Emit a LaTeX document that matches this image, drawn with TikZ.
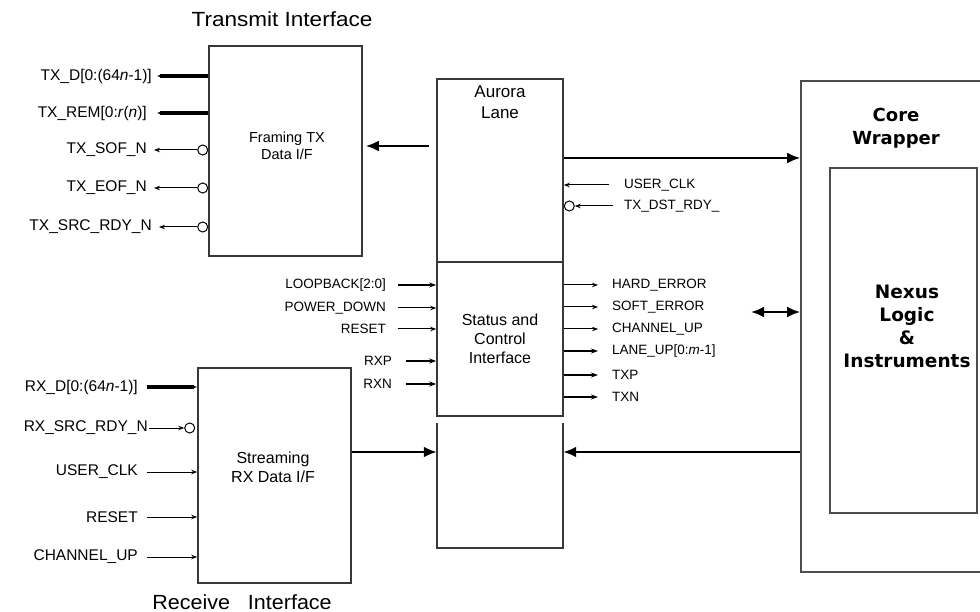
\documentclass[tikz,border=0pt]{standalone}
\usepackage{fontspec}
\setmainfont{Liberation Sans}
\newfontfamily\wrapfont{DejaVu Sans}
\usetikzlibrary{arrows.meta, positioning, calc}
\definecolor{boxgray}{rgb}{0.22,0.22,0.22}

\begin{document}
\begin{tikzpicture}[x=1pt, y=-1pt,
    blk/.style={draw=boxgray, line width=1.6pt, inner sep=0pt, align=center},
    pinlbl/.style={font=\fontsize{15.5}{17}\selectfont, inner sep=0pt},
    statlbl/.style={font=\fontsize{13.5}{15}\selectfont, inner sep=0pt},
    boxtxt/.style={inner sep=0pt, align=center},
    sig/.style={line width=1pt, -{Stealth[length=6pt, width=4.5pt]}},
    sigb/.style={line width=1.6pt, -{Stealth[length=7pt, width=5pt]}},
    bus/.style={line width=3.6pt, -{Stealth[length=5pt, width=3pt]}},
    main/.style={line width=2.4pt, -{Latex[length=13pt, width=11pt]}},
    bubble/.style={circle, draw, line width=1pt, minimum size=10pt, inner sep=0pt}]
    \useasboundingbox (0,0) rectangle (980,612);

    % Transmit interface
    \node[font=\fontsize{20.5}{22}\selectfont, xscale=1.1] (txtitle) at (282,19) {Transmit Interface};
    \node[blk, minimum width=153pt, minimum height=210pt] (frame) at (285.5,151) {};
    \node[boxtxt, font=\fontsize{14.5}{17}\selectfont] (frametxt) at (287,146) {Framing TX\\Data I/F};

    \node[pinlbl, anchor=east] (txd) at (152,76) {TX\_D[0:(64\textit{n}-1)]};
    \node[pinlbl, anchor=east] (txrem) at (147,113) {TX\_REM[0:\textit{r}(\textit{n})]};
    \node[pinlbl, anchor=east] (txsof) at (147,150) {TX\_SOF\_N};
    \node[pinlbl, anchor=east] (txeof) at (147,188) {TX\_EOF\_N};
    \node[pinlbl, anchor=east] (txsrc) at (152,227) {TX\_SRC\_RDY\_N};
    \draw[bus] (frame.west |- txd) -- ([xshift=5pt]txd.east);
    \draw[bus] (frame.west |- txrem) -- ([xshift=10pt]txrem.east);
    \foreach \p in {txsof, txeof, txsrc} {
        \node[bubble, anchor=east] (b\p) at (frame.west |- \p) {};
        \draw[sig] (b\p) -- ([xshift=7pt]\p.east);
    }

    % Aurora lane
    \node[blk, minimum width=126pt, minimum height=183pt] (aurora) at (500,170.5) {};
    \node[boxtxt, font=\fontsize{17}{21}\selectfont, below=7pt of aurora.north] (auroratxt) {Aurora\\Lane};
    \node[statlbl, anchor=west] (uclk) at (624,185) {USER\_CLK};
    \node[statlbl, anchor=west] (dstrdy) at (624,206) {TX\_DST\_RDY\_};
    \draw[sig] ([xshift=-15pt]uclk.west) -- (aurora.east |- uclk);
    \node[bubble, anchor=west] (bdst) at (aurora.east |- dstrdy) {};
    \draw[sig] ([xshift=-11pt]dstrdy.west) -- (bdst);

    % Status and control
    \node[blk, minimum width=126pt, minimum height=154pt, font=\fontsize{16}{19}\selectfont] (status) at (500,339) {Status and\\Control\\Interface};
    \node[statlbl, anchor=east] (loop) at (386,285) {LOOPBACK[2:0]};
    \node[statlbl, anchor=east] (pdown) at (386,308) {POWER\_DOWN};
    \node[statlbl, anchor=east] (rst) at (386,329) {RESET};
    \node[statlbl, anchor=east] (rxp) at (392,361) {RXP};
    \node[statlbl, anchor=east] (rxn) at (392,384) {RXN};
    \draw[sigb] ([xshift=12pt]loop.east) -- (status.west |- loop);
    \draw[sig] ([xshift=12pt]pdown.east) -- (status.west |- pdown);
    \draw[sig] ([xshift=12pt]rst.east) -- (status.west |- rst);
    \draw[sigb] ([xshift=14pt]rxp.east) -- (status.west |- rxp);
    \draw[sigb] ([xshift=14pt]rxn.east) -- (status.west |- rxn);

    \node[statlbl, anchor=west] (hard) at (612,285) {HARD\_ERROR};
    \node[statlbl, anchor=west] (soft) at (612,307) {SOFT\_ERROR};
    \node[statlbl, anchor=west] (chup) at (612,329) {CHANNEL\_UP};
    \node[statlbl, anchor=west] (lane) at (612,351) {LANE\_UP[0:\textit{m}-1]};
    \node[statlbl, anchor=west] (txp) at (612,375) {TXP};
    \node[statlbl, anchor=west] (txn) at (612,397) {TXN};
    \foreach \p in {hard, soft, chup}
        \draw[sig] (status.east |- \p) -- ([xshift=-14pt]\p.west);
    \foreach \p in {lane, txp, txn}
        \draw[sigb] (status.east |- \p) -- ([xshift=-14pt]\p.west);

    % Lower lane block (open on top)
    \node[minimum width=126pt, minimum height=125pt, inner sep=0pt] (lower) at (500,485.5) {};
    \draw[boxgray, line width=1.6pt] (lower.north west) -- (lower.south west) -- (lower.south east) -- (lower.north east);

    % Receive interface
    \node[blk, minimum width=153pt, minimum height=215pt] (stream) at (274.5,475.5) {};
    \node[boxtxt, font=\fontsize{16}{19}\selectfont] (streamtxt) at (273,467) {Streaming\\RX Data I/F};
    \node[font=\fontsize{20.5}{22}\selectfont, xscale=1.05] (rxtitle) at (242,602) {Receive\ \ \ Interface};

    \node[pinlbl, anchor=east] (rxd) at (138,387) {RX\_D[0:(64\textit{n}-1)]};
    \node[pinlbl, anchor=east] (rxsrc) at (148,428) {RX\_SRC\_RDY\_N};
    \node[pinlbl, anchor=east] (ruclk) at (138,472) {USER\_CLK};
    \node[pinlbl, anchor=east] (rrst) at (138,517) {RESET};
    \node[pinlbl, anchor=east] (rchup) at (138,557) {CHANNEL\_UP};
    \draw[bus] ([xshift=9pt]rxd.east) -- (stream.west |- rxd);
    \node[bubble, anchor=east] (brxsrc) at ([xshift=-2pt]stream.west |- rxsrc) {};
    \draw[sig] ([xshift=1pt]rxsrc.east) -- (brxsrc);
    \foreach \p in {ruclk, rrst, rchup}
        \draw[sig] ([xshift=9pt]\p.east) -- (stream.west |- \p);

    % Core wrapper
    \node[blk, draw=black!70, minimum width=200pt, minimum height=491pt] (core) at (901,326.5) {};
    \node[font=\wrapfont\bfseries\fontsize{18}{23}\selectfont, align=center] (coretxt) at (896,128) {Core\\Wrapper};
    \node[blk, draw=black!70, minimum width=147pt, minimum height=345pt] (nexus) at (903.5,340.5) {};
    \node[font=\wrapfont\bfseries\fontsize{18.5}{23}\selectfont, align=center] (nexustxt) at (907,326) {Nexus\\Logic\\\&\\Instruments};

    % Data paths
    \draw[main] ([xshift=-7pt]aurora.west |- frametxt) -- ([xshift=3pt]frame.east |- frametxt);
    \draw[main] (aurora.east |- 0,158) -- (core.west |- 0,158);
    \draw[main] (stream.east |- 0,452) -- (lower.west |- 0,452);
    \draw[main] (core.west |- 0,452) -- (lower.east |- 0,452);
    \coordinate (bidir) at (751,312);
    \draw[main, {Latex[length=13pt, width=11pt]}-{Latex[length=13pt, width=11pt]}] (bidir) -- (core.west |- bidir);
\end{tikzpicture}
\end{document}
